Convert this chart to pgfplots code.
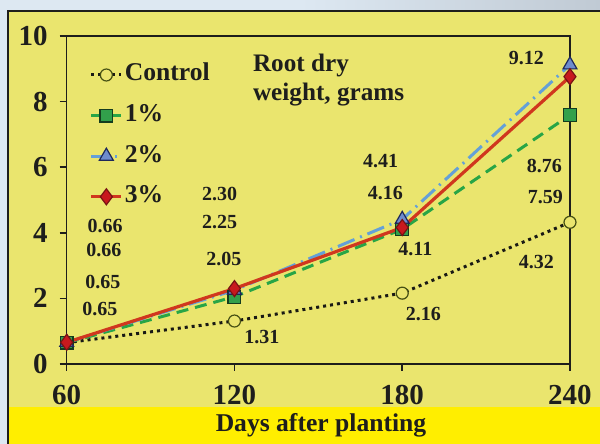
\documentclass[border=0pt]{standalone}
\usepackage{fontspec}
\setmainfont{Liberation Serif}
\usepackage{pgfplots}
\pgfplotsset{compat=1.18}

\definecolor{bgyel}{RGB}{234,229,110}
\definecolor{bandyel}{RGB}{255,238,0}
\definecolor{outerblue}{RGB}{221,232,242}
\definecolor{outergray}{RGB}{192,202,212}
\definecolor{txt}{RGB}{30,30,28}
\definecolor{ctrlline}{RGB}{25,25,20}
\definecolor{ctrlmark}{RGB}{70,80,20}
\definecolor{gline}{RGB}{40,165,70}
\definecolor{gfill}{RGB}{50,160,75}
\definecolor{gdraw}{RGB}{20,60,30}
\definecolor{bline}{RGB}{100,160,215}
\definecolor{bfill}{RGB}{110,140,205}
\definecolor{bdraw}{RGB}{30,40,90}
\definecolor{rline}{RGB}{208,55,30}
\definecolor{rfill}{RGB}{200,25,30}
\definecolor{rdraw}{RGB}{120,20,20}

\newcommand{\lab}[3]{\node[font=\bfseries\fontsize{10}{10}\selectfont, text=txt] at (axis cs:#1,#2) {#3};}

\begin{document}
\begin{tikzpicture}
% background
\fill[outerblue] (0,0) rectangle (300pt,222pt);
\shade[left color=outerblue, right color=outergray] (150pt,216pt) rectangle (300pt,222pt);
\fill[bgyel] (4pt,0) rectangle (300pt,216.5pt);
\fill[bandyel] (4.5pt,0) rectangle (300pt,18.5pt);
\draw[txt, line width=1pt] (4pt,0) -- (4pt,216.5pt) -- (300pt,216.5pt);

\begin{axis}[
  at={(33.35pt,40pt)}, anchor=south west,
  scale only axis,
  width=251.65pt, height=164pt,
  xmin=60, xmax=240, ymin=0, ymax=10,
  xtick={60,120,180,240}, ytick={0,2,4,6,8,10},
  xtick pos=bottom, ytick pos=left,
  tick align=outside, major tick length=3.5pt,
  axis line style={txt, line width=0.75pt},
  tick style={txt, line width=0.75pt},
  clip=false,
  axis background/.style={fill=none},
  /pgf/number format/assume math mode=true,
  ticklabel style={font=\bfseries\fontsize{14.5}{14.5}\selectfont, text=txt},
  yticklabel style={xshift=-2.5pt},
  xticklabel style={yshift=-3.5pt},
  legend style={draw=none, fill=none, at={(0.045,0.925)}, anchor=north west,
    font=\bfseries\fontsize{12.8}{12.8}\selectfont, text=txt,
    row sep=6.3pt, inner sep=0pt,
    nodes={inner sep=1pt, text height=9pt, text depth=3pt}},
  legend cell align=left,
  legend image code/.code={
    \draw[mark repeat=2,mark phase=2,#1] plot coordinates {(0pt,0pt) (7.5pt,0pt) (15pt,0pt)};
  },
]
\addplot[ctrlline, line width=1.5pt, dash pattern=on 1.5pt off 2pt,
  mark=*, mark size=3pt, mark options={solid, fill=bgyel, draw=ctrlmark, line width=0.6pt}]
  coordinates {(60,0.65) (120,1.31) (180,2.16) (240,4.32)};
\addlegendentry{Control}

\addplot[gline, line width=1.5pt, dash pattern=on 6pt off 3.5pt,
  mark=square*, mark size=3.2pt, mark options={solid, fill=gfill, draw=gdraw, line width=0.6pt}]
  coordinates {(60,0.65) (120,2.05) (180,4.11) (240,7.59)};
\addlegendentry{1\%}

\addplot[bline, line width=1.5pt, dash pattern=on 9pt off 3pt on 1pt off 3pt,
  mark=triangle*, mark size=4pt, mark options={solid, fill=bfill, draw=bdraw, line width=0.6pt}]
  coordinates {(60,0.66) (120,2.25) (180,4.41) (240,9.12)};
\addlegendentry{2\%}

\addplot[rline, line width=1.6pt,
  mark=diamond*, mark size=4pt, mark options={solid, fill=rfill, draw=rdraw, line width=0.6pt}]
  coordinates {(60,0.66) (120,2.30) (180,4.16) (240,8.76)};
\addlegendentry{3\%}

% value labels
\lab{73.7}{4.21}{0.66}
\lab{73.3}{3.47}{0.66}
\lab{72.9}{2.50}{0.65}
\lab{71.9}{1.68}{0.65}
\lab{114.7}{5.18}{2.30}
\lab{114.7}{4.33}{2.25}
\lab{116.2}{3.20}{2.05}
\lab{129.8}{0.82}{1.31}
\lab{172.3}{6.19}{4.41}
\lab{174.0}{5.21}{4.16}
\lab{184.7}{3.51}{4.11}
\lab{187.6}{1.52}{2.16}
\lab{224.4}{9.33}{9.12}
\lab{230.8}{6.04}{8.76}
\lab{231.2}{5.09}{7.59}
\lab{228.0}{3.11}{4.32}

\node[anchor=north west, align=left, inner sep=0pt, text=txt,
  font=\bfseries\fontsize{12.6}{14.5}\selectfont]
  at (axis cs:126.5,9.45) {Root dry\\weight, grams};
\end{axis}

\node[text=txt, font=\bfseries\fontsize{12.8}{12.8}\selectfont] at (160.5pt,9.5pt) {Days after planting};

\pgfresetboundingbox
\useasboundingbox (0,0) rectangle (300pt,222pt);
\end{tikzpicture}
\end{document}
